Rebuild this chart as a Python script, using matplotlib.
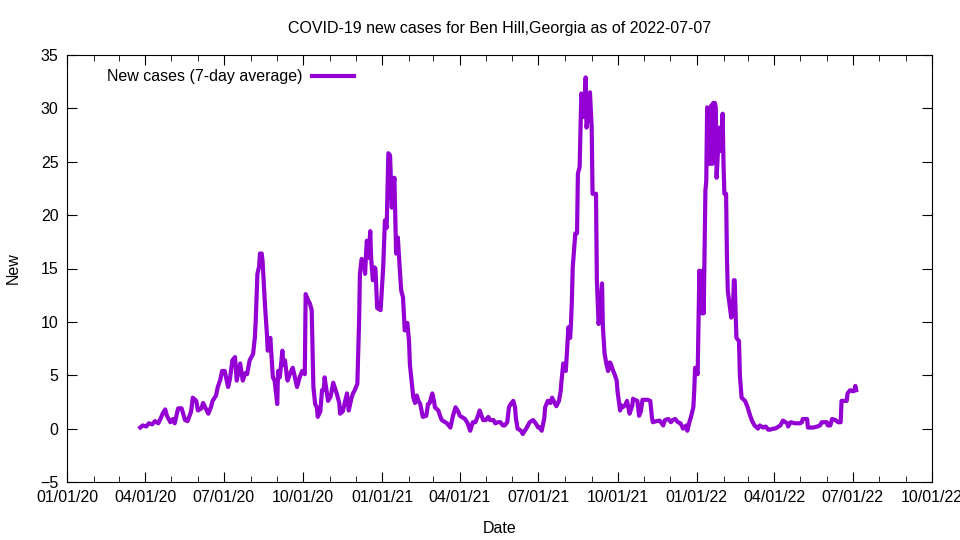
import matplotlib
matplotlib.use("Agg")
import matplotlib.pyplot as plt
import matplotlib.dates as mdates
import numpy as np
import pandas as pd

plt.rcParams['font.family'] = ['Liberation Sans', 'DejaVu Sans']

# days since 2020-01-01 and 7-day average of new cases
start_date = "2020-01-01"
day_offset = [
    85, 88, 92, 95, 99, 102, 106, 109, 111, 114, 116, 120, 123, 125, 129, 133,
    137, 140, 144, 146, 150, 152, 156, 158, 161, 164, 167, 169, 173, 175, 178,
    180, 183, 187, 189, 192, 195, 197, 201, 204, 207, 209, 212, 216, 218, 219,
    221, 223, 224, 226, 227, 230, 232, 233, 236, 239, 241, 244, 245, 247, 250,
    251, 253, 255, 256, 259, 262, 264, 267, 270, 273, 276, 277, 280, 282, 284,
    286, 288, 290, 291, 294, 296, 298, 299, 302, 303, 306, 309, 311, 313, 316,
    317, 320, 323, 325, 327, 330, 332, 334, 337, 339, 340, 342, 345, 346, 347,
    348, 350, 352, 353, 355, 357, 358, 360, 364, 367, 369, 371, 373, 375, 377,
    380, 382, 384, 387, 388, 390, 392, 395, 397, 398, 402, 404, 406, 408, 410,
    413, 417, 419, 421, 424, 426, 427, 431, 433, 435, 439, 441, 445, 448, 451,
    454, 456, 460, 462, 465, 468, 471, 474, 477, 479, 483, 486, 489, 491, 495,
    497, 500, 503, 506, 508, 511, 513, 515, 518, 520, 521, 523, 527, 529, 533,
    535, 537, 541, 544, 547, 549, 551, 554, 555, 558, 561, 563, 566, 568, 571,
    573, 574, 576, 578, 579, 582, 584, 585, 586, 587, 590, 592, 593, 595, 597,
    598, 599, 601, 602, 603, 606, 607, 609, 610, 614, 615, 617, 619, 621, 622,
    624, 626, 628, 630, 631, 634, 636, 638, 639, 642, 643, 645, 648, 650, 652,
    653, 656, 657, 659, 662, 664, 666, 668, 672, 674, 677, 679, 680, 684, 688,
    692, 694, 698, 701, 703, 706, 709, 712, 714, 715, 719, 720, 723, 724, 727,
    728, 729, 732, 734, 736, 737, 738, 739, 741, 742, 743, 744, 746, 748, 749,
    750, 752, 753, 754, 757, 759, 761, 762, 763, 765, 766, 767, 771, 773, 774,
    775, 776, 777, 780, 781, 783, 787, 790, 793, 795, 798, 802, 804, 808, 811,
    814, 816, 820, 822, 826, 828, 830, 831, 834, 836, 837, 840, 845, 851, 853,
    854, 859, 860, 866, 871, 874, 876, 882, 883, 886, 888, 892, 895, 898, 899,
    905, 906, 909, 912, 914, 915, 916,
]
new_cases = [
    0.1, 0.3, 0.2, 0.5, 0.4, 0.7, 0.5, 1.0, 1.4, 1.8, 1.2, 0.6, 0.9, 0.5, 1.9, 1.9,
    0.8, 0.7, 1.6, 2.9, 2.6, 1.7, 1.9, 2.4, 1.9, 1.4, 2.0, 2.6, 3.1, 3.9, 4.6,
    5.4, 5.4, 3.9, 4.6, 6.4, 6.7, 4.5, 6.1, 4.5, 5.2, 5.1, 6.4, 7.0, 8.5, 10.0,
    14.5, 15.2, 16.4, 16.4, 15.7, 11.3, 8.9, 7.3, 8.5, 4.8, 4.5, 2.3, 5.4, 4.8, 7.3,
    6.0, 6.4, 5.0, 4.5, 5.2, 5.7, 5.0, 3.9, 4.8, 5.4, 5.1, 12.6, 12.0, 11.7, 11.1,
    3.9, 2.3, 2.0, 1.1, 1.6, 3.6, 3.6, 4.8, 3.2, 2.6, 3.0, 4.3, 3.8, 3.3, 2.4,
    1.4, 1.6, 2.6, 3.3, 1.7, 2.8, 3.3, 3.6, 4.2, 10.0, 14.5, 15.9, 15.2, 14.5, 16.2,
    17.6, 16.0, 18.5, 16.0, 13.9, 15.1, 15.0, 11.3, 11.1, 15.1, 19.5, 18.8, 25.8, 25.6, 20.7,
    23.5, 16.4, 17.9, 14.0, 12.9, 12.3, 9.2, 9.9, 8.2, 6.0, 2.9, 2.4, 3.1, 2.6, 2.3,
    1.1, 1.2, 2.3, 2.4, 3.3, 2.6, 2.0, 1.7, 1.2, 0.8, 0.6, 0.5, 0.1, 1.2, 2.0,
    1.6, 1.2, 1.0, 0.9, 0.5, -0.2, 0.6, 0.6, 1.2, 1.7, 0.8, 0.8, 1.1, 0.8, 0.8,
    0.5, 0.6, 0.6, 0.3, 0.3, 0.6, 2.0, 2.3, 2.6, 2.0, 1.0, 0.0, -0.2, -0.5, 0.0,
    0.3, 0.6, 0.8, 0.5, 0.1, 0.1, -0.2, 1.0, 2.0, 2.6, 2.4, 2.9, 2.4, 2.1, 2.6,
    3.5, 4.5, 6.1, 5.8, 5.4, 9.5, 8.5, 9.9, 12.0, 15.1, 18.3, 18.3, 23.9, 24.5, 31.4,
    31.0, 29.2, 30.5, 32.9, 28.2, 30.0, 31.5, 28.2, 22.0, 22.0, 13.9, 9.8, 11.0, 13.6, 9.5,
    7.0, 6.1, 5.4, 6.2, 6.1, 5.4, 5.0, 4.5, 3.5, 1.7, 2.2, 2.0, 2.2, 2.6, 1.8,
    1.4, 2.1, 2.8, 2.7, 2.6, 1.2, 1.6, 2.7, 2.7, 2.7, 2.6, 1.0, 0.6, 0.7, 0.75,
    0.3, 0.8, 0.9, 0.6, 0.8, 0.9, 0.6, 0.5, 0.2, 0.0, 0.3, -0.2, 0.8, 1.0, 2.0,
    3.5, 5.7, 5.1, 14.8, 11.0, 10.8, 14.8, 10.8, 22.3, 23.2, 30.1, 27.0, 24.8, 30.3, 24.8,
    30.5, 30.5, 30.1, 23.5, 28.2, 26.0, 29.5, 24.8, 22.0, 22.0, 16.0, 12.9, 10.4, 11.1, 13.9,
    13.9, 11.0, 8.5, 8.2, 5.0, 2.9, 2.6, 2.0, 1.2, 0.75, 0.3, 0.0, 0.3, 0.1, 0.2,
    -0.1, -0.1, 0.0, 0.0, 0.2, 0.3, 0.6, 0.75, 0.6, 0.5, 0.2, 0.6, 0.5, 0.5, 0.6,
    0.9, 0.9, 0.1, 0.1, 0.2, 0.3, 0.6, 0.6, 0.3, 0.3, 0.9, 0.8, 0.6, 0.6, 2.6,
    2.6, 3.3, 3.6, 3.5, 3.6, 4.0, 3.6,
]

dates = pd.Timestamp(start_date) + pd.to_timedelta(day_offset, unit="D")

fig = plt.figure(figsize=(9.6, 5.4), dpi=100)
ax = fig.add_axes([67 / 960, 1 - 482 / 540, 865 / 960, 427 / 540])

ax.plot(dates, new_cases, color="#9400d3", lw=3.0, label="New cases (7-day average)")

ax.set_xlim(pd.Timestamp("2020-01-01"), pd.Timestamp("2022-10-01"))
ax.set_ylim(-5, 35)
ax.set_yticks(np.arange(-5, 36, 5))
ax.xaxis.set_major_locator(mdates.MonthLocator(bymonth=[1, 4, 7, 10]))
ax.xaxis.set_minor_locator(mdates.MonthLocator())
ax.xaxis.set_major_formatter(mdates.DateFormatter("%m/%d/%y"))

ax.tick_params(which="both", direction="in", top=True, right=True, labelsize=11.5, pad=6)
ax.tick_params(which="major", length=7)
ax.tick_params(which="minor", length=4)

ax.set_title("COVID-19 new cases for Ben Hill,Georgia as of 2022-07-07", fontsize=11.5, pad=16)
ax.set_xlabel("Date", fontsize=11.5, labelpad=11)
ax.set_ylabel("New", fontsize=11.5, labelpad=14)

ax.legend(loc="upper left", bbox_to_anchor=(0.03, 1.0), frameon=False, markerfirst=False,
          fontsize=11.5, handlelength=2.6, handletextpad=0.6)

fig.savefig("out.png", dpi=100)
